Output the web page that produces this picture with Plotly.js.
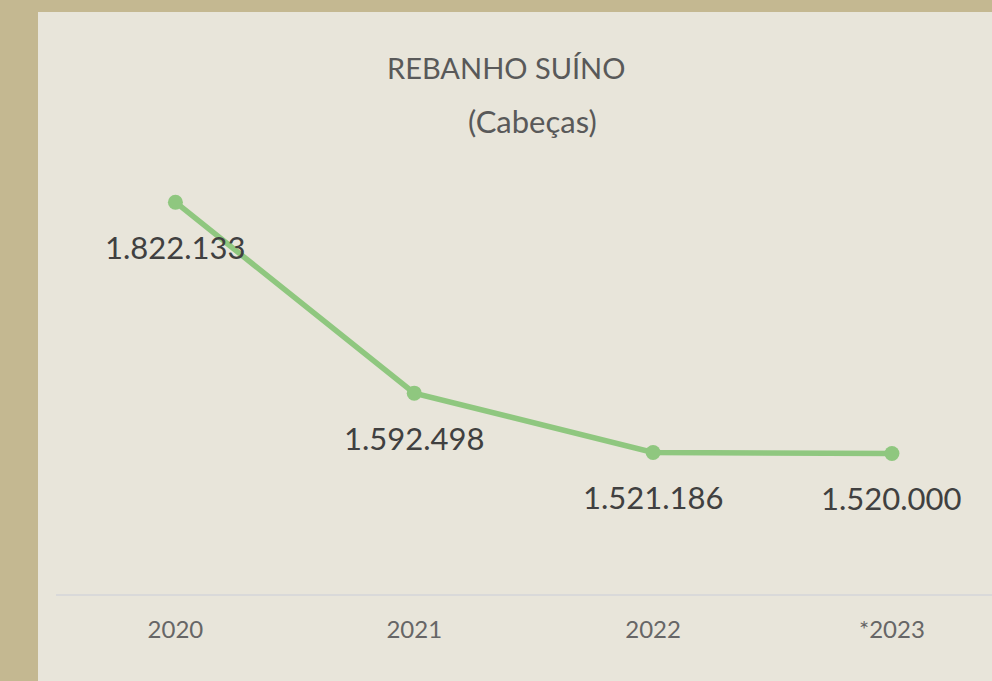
<!DOCTYPE html>
<html>
<head>
<meta charset="utf-8">
<script src="https://cdn.plot.ly/plotly-3.0.1.min.js"></script>
<style>
  html, body { margin: 0; padding: 0; background: #c4b891; width: 992px; height: 681px; overflow: hidden; }
  #chart { position: absolute; left: 38px; top: 12px; width: 954px; height: 669px; }
</style>
</head>
<body>
<div id="chart"></div>
<script>
const categories = ["2020", "2021", "2022", "*2023"];
const values = [1822133, 1592498, 1521186, 1520000];
const valueLabels = ["1.822.133", "1.592.498", "1.521.186", "1.520.000"];
const titleLine1 = "REBANHO SUÍNO";
const titleLine2 = "(Cabeças)";

const green = "#8fc77f";
const FONT = "Lato, 'Open Sans', sans-serif";

const trace = {
  type: "scatter",
  mode: "lines+markers",
  x: categories,
  y: values,
  line: { color: green, width: 5.5 },
  marker: { color: green, size: 15 },
  hoverinfo: "skip"
};

// category axis: annotations positioned by category index
const annotations = categories.map((c, i) => ({
  x: i, y: values[i], xref: "x", yref: "y",
  text: valueLabels[i], showarrow: false,
  yshift: -45, xanchor: "center", yanchor: "middle",
  font: { family: FONT, size: 31, color: "#404040" }
}));

annotations.push({
  xref: "paper", yref: "paper", x: 0.4808, y: 1.2675,
  text: titleLine1, showarrow: false, xanchor: "center", yanchor: "middle",
  font: { family: FONT, size: 29, color: "#595959" }
});
annotations.push({
  xref: "paper", yref: "paper", x: 0.5096, y: 1.1398,
  text: titleLine2, showarrow: false, xanchor: "center", yanchor: "middle",
  font: { family: FONT, size: 31, color: "#595959" }
});

const layout = {
  width: 954, height: 669,
  paper_bgcolor: "#e8e5da",
  plot_bgcolor: "rgba(0,0,0,0)",
  margin: { l: 18, r: 0, t: 167, b: 87, pad: 0 },
  showlegend: false,
  xaxis: {
    type: "category",
    range: [-0.5, 3.419],
    showline: true, linecolor: "#d9d9d9", linewidth: 2,
    showgrid: false, zeroline: false, ticks: "",
    ticklabelstandoff: 13,
    tickfont: { family: FONT, size: 24, color: "#666666" },
    fixedrange: true
  },
  yaxis: {
    range: [1351000, 1850000],
    visible: false, showgrid: false, zeroline: false,
    fixedrange: true
  },
  annotations: annotations
};

Plotly.newPlot("chart", [trace], layout, { displayModeBar: false, staticPlot: true });
</script>
</body>
</html>
